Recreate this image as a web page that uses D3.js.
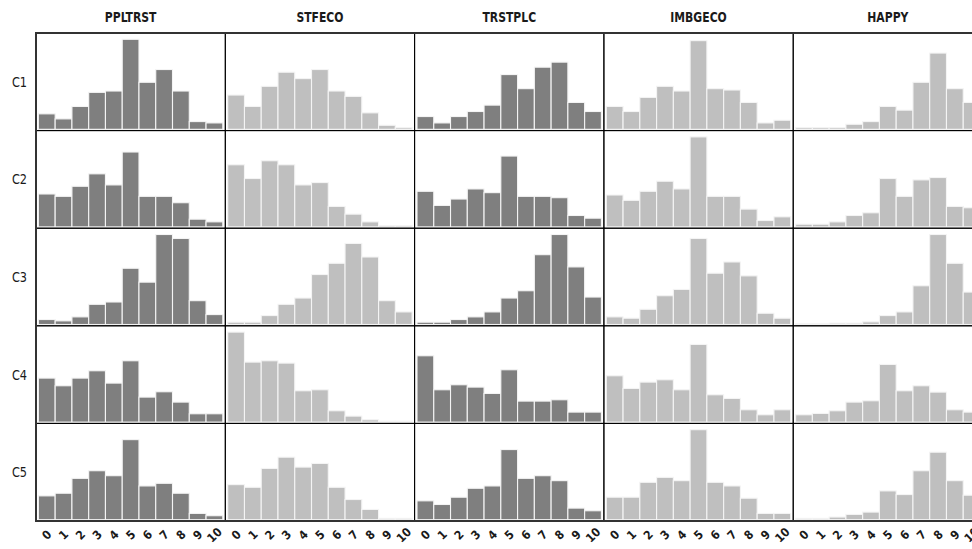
<!DOCTYPE html>
<html>
<head>
<meta charset="utf-8">
<script src="https://cdn.jsdelivr.net/npm/d3@7"></script>
<style>
  html, body { margin: 0; padding: 0; background: #fff; overflow: hidden; }
  svg { display: block; }
  .narrow { font-family: 'Liberation Sans Narrow', 'Arial Narrow', 'DejaVu Sans Condensed', sans-serif; }
</style>
</head>
<body>
<svg id="svg1" width="972" height="549"></svg>
<script>
"use strict";

// categories
const clusters = ["C1", "C2", "C3", "C4", "C5"];
const variables = ["PPLTRST", "STFECO", "TRSTPLC", "IMBGECO", "HAPPY"];
const scores = ["0", "1", "2", "3", "4", "5", "6", "7", "8", "9", "10"];

// share of answers per score, one row per cluster
const ppltrst = [
    [46, 31, 68, 110, 114, 268, 140, 178, 114, 23, 19],
    [98, 91, 121, 158, 125, 223, 91, 91, 72, 23, 15],
    [15, 11, 23, 61, 68, 170, 128, 272, 260, 72, 30],
    [132, 109, 132, 154, 117, 184, 75, 91, 60, 25, 25],
    [72, 80, 125, 148, 133, 242, 102, 110, 80, 19, 12]
];
const stfeco = [
    [102, 68, 128, 170, 151, 178, 114, 98, 49, 12, 5],
    [185, 144, 197, 185, 125, 132, 61, 38, 15, 4, 4],
    [7, 7, 27, 61, 80, 151, 185, 245, 204, 72, 38],
    [270, 180, 184, 177, 94, 97, 34, 18, 7, 3, 3],
    [106, 98, 155, 189, 159, 170, 98, 61, 31, 4, 4]
];
const trstplc = [
    [38, 19, 38, 53, 72, 163, 121, 185, 200, 80, 53],
    [106, 64, 83, 113, 102, 211, 91, 91, 87, 34, 26],
    [7, 7, 15, 23, 38, 80, 102, 211, 272, 174, 83],
    [199, 97, 112, 105, 86, 157, 63, 63, 67, 30, 30],
    [57, 46, 68, 95, 102, 212, 125, 133, 118, 35, 27]
];
const imbgeco = [
    [68, 53, 95, 128, 114, 264, 121, 117, 80, 19, 27],
    [95, 79, 106, 136, 113, 268, 91, 91, 53, 19, 30],
    [23, 19, 46, 87, 106, 260, 155, 189, 147, 34, 19],
    [139, 101, 120, 127, 97, 233, 82, 71, 37, 22, 37],
    [68, 68, 113, 128, 118, 272, 113, 102, 65, 19, 19]
];
const happy = [
    [5, 5, 5, 15, 23, 68, 57, 140, 227, 121, 80],
    [8, 8, 15, 34, 42, 144, 91, 140, 147, 61, 57],
    [2, 2, 4, 4, 8, 27, 38, 117, 272, 185, 98],
    [22, 26, 34, 60, 64, 173, 94, 109, 90, 37, 30],
    [4, 4, 8, 16, 23, 87, 76, 148, 204, 118, 74]
];

const seriesData = [ppltrst, stfeco, trstplc, imbgeco, happy];
const darkVars = ["PPLTRST", "TRSTPLC"];

// layout
let marginLeft = 36;
let marginTop = 33;
let panelW = 189.3;
let panelH = 97.6;

let svg = d3.select("#svg1");

let color = d3.scaleOrdinal().domain(variables)
    .range(variables.map(v => darkVars.includes(v) ? "#7f7f7f" : "#bfbfbf"));

let colX = d3.scaleBand().domain(variables).range([marginLeft, marginLeft + panelW * variables.length]);
let rowY = d3.scaleBand().domain(clusters).range([marginTop, marginTop + panelH * clusters.length]);

// column titles (squeezed a bit, the original font is a narrow one)
svg.selectAll(".colTitle").data(variables).enter().append("text")
    .attr("class", "colTitle narrow")
    .attr("transform", d => `translate(${colX(d) + panelW / 2},22) scale(0.86,1)`)
    .attr("text-anchor", "middle")
    .style("font-size", "14px")
    .style("font-weight", "bold")
    .style("fill", "#1a1a1a")
    .text(d => d);

// row labels
svg.selectAll(".rowTitle").data(clusters).enter().append("text")
    .attr("class", "rowTitle narrow")
    .attr("transform", d => `translate(19.5,${rowY(d) + panelH / 2 + 5}) scale(0.9,1)`)
    .attr("text-anchor", "middle")
    .style("font-size", "14px")
    .style("fill", "#1a1a1a")
    .text(d => d);

clusters.forEach((cl, ri) => {
    let top = rowY(cl);
    let base = top + panelH - 1.3;
    // same y scale along one row
    let rowMax = d3.max(seriesData, s => d3.max(s[ri]));
    let y = d3.scaleLinear().domain([0, rowMax * 1.07]).range([base, top]);

    variables.forEach((v, ci) => {
        let left = colX(v);
        let x = d3.scaleBand().domain(scores).range([left + 2.4, left + panelW - 2.5]).padding(0);
        let g = svg.append("g");

        g.selectAll("rect").data(seriesData[ci][ri]).enter().append("rect")
            .attr("x", (d, i) => x(scores[i]))
            .attr("y", d => y(d))
            .attr("width", x.bandwidth())
            .attr("height", d => base - y(d))
            .attr("fill", color(v))
            .attr("stroke", "#f4f4f4")
            .attr("stroke-width", 1.1);

        // panel border
        g.append("rect")
            .attr("x", left).attr("y", top)
            .attr("width", panelW).attr("height", panelH)
            .attr("fill", "none")
            .attr("stroke", "#000")
            .attr("stroke-width", 1);

        // x axis under the last row only
        if (ri === clusters.length - 1) {
            let ax = svg.append("g")
                .attr("transform", `translate(0,${top + panelH + 14})`)
                .call(d3.axisBottom(x).tickSize(0).tickPadding(0));
            ax.select(".domain").remove();
            ax.selectAll(".tick text")
                .attr("class", "narrow")
                .attr("y", 0)
                .attr("dy", "0.35em")
                .attr("text-anchor", "middle")
                .attr("transform", "rotate(-45)")
                .style("font-size", "12px")
                .style("font-weight", "bold")
                .style("fill", "#1a1a1a");
        }
    });
});

// outer frame
svg.append("rect")
    .attr("x", marginLeft).attr("y", marginTop)
    .attr("width", panelW * variables.length).attr("height", panelH * clusters.length)
    .attr("fill", "none")
    .attr("stroke", "#333")
    .attr("stroke-width", 2);
</script>
</body>
</html>
